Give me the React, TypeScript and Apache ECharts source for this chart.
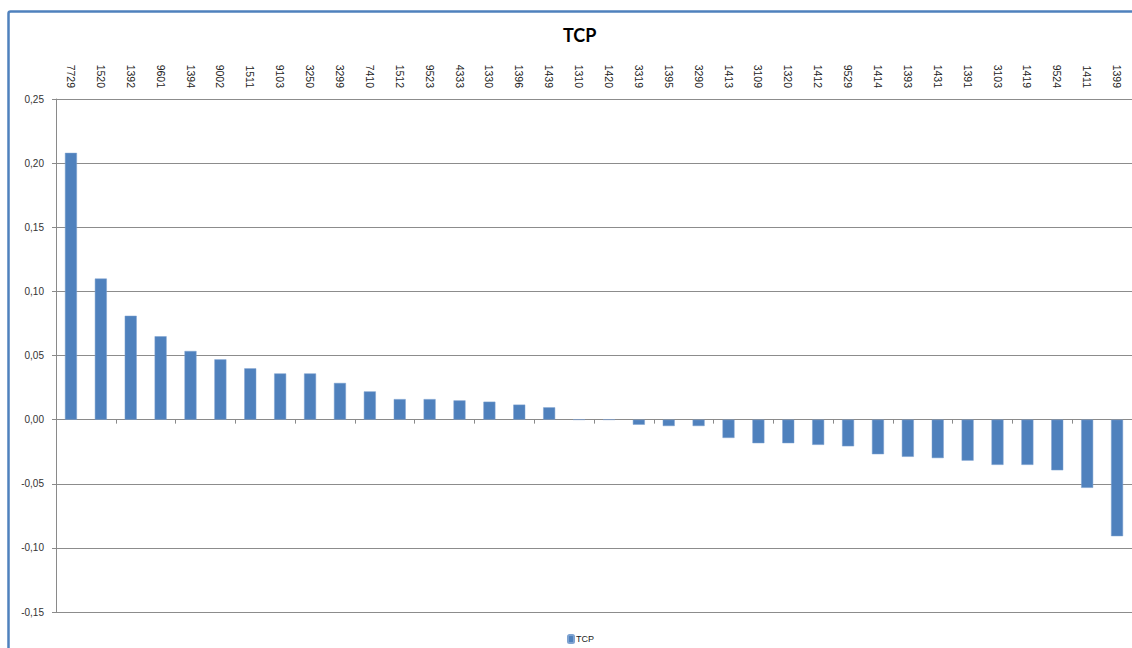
import React, { useEffect, useRef } from "react";
import * as echarts from "echarts";

const categories = [
  "7729", "1520", "1392", "9601", "1394", "9002", "1511", "9103", "3250", "3299",
  "7410", "1512", "9523", "4333", "1330", "1396", "1439", "1310", "1420", "3319",
  "1395", "3290", "1413", "3109", "1320", "1412", "9529", "1414", "1393", "1431",
  "1391", "3103", "1419", "9524", "1411", "1399",
];
const tcpValues = [
  0.208, 0.110, 0.081, 0.065, 0.0535, 0.047, 0.040, 0.036, 0.036, 0.0286,
  0.022, 0.016, 0.016, 0.015, 0.014, 0.0117, 0.0096, 0, 0, -0.004,
  -0.005, -0.005, -0.0143, -0.0184, -0.0184, -0.0197, -0.0208, -0.027, -0.029, -0.030,
  -0.032, -0.0353, -0.0353, -0.0395, -0.0532, -0.0909,
];
const seriesName = "TCP";

export default function App() {
  const ref = useRef<HTMLDivElement>(null);
  useEffect(() => {
    document.body.style.margin = "0";
    const chart = echarts.init(ref.current!, null, { renderer: "svg" });
    const font = "'Liberation Sans', Arial, sans-serif";
    chart.setOption({
      animation: false,
      backgroundColor: "#ffffff",
      title: {
        text: "TCP",
        left: 558,
        top: 21,
        textStyle: { fontSize: 18, fontWeight: "bold", color: "#000", fontFamily: "Lato, 'Open Sans', sans-serif" },
      },
      legend: {
        data: [seriesName],
        left: 562,
        top: 629,
        itemWidth: 6,
        itemHeight: 8,
        itemGap: 4,
        textStyle: { fontSize: 9, color: "#222", fontFamily: font, padding: [0, 0, 0, -3] },
      },
      grid: { left: 56, top: 99, width: 1080, height: 513, containLabel: false },
      xAxis: [
        {
          type: "category",
          data: categories,
          position: "bottom",
          axisLine: { onZero: true, lineStyle: { color: "#8a8a8a", width: 1 } },
          axisTick: { show: true, length: 4, lineStyle: { color: "#8a8a8a" } },
          axisLabel: { show: false },
          splitLine: { show: false },
        },
        {
          type: "category",
          data: categories,
          position: "top",
          axisLine: { show: false },
          axisTick: { show: false },
          axisLabel: {
            show: true,
            rotate: 90,
            margin: 11,
            interval: 0,
            fontSize: 10.5,
            color: "#222",
            fontFamily: font,
          },
        },
      ],
      yAxis: {
        type: "value",
        min: -0.15,
        max: 0.25,
        interval: 0.05,
        axisLine: { show: true, lineStyle: { color: "#8a8a8a" } },
        axisTick: { show: true, length: 4, lineStyle: { color: "#8a8a8a" } },
        axisLabel: {
          margin: 12,
          fontSize: 10,
          color: "#333",
          fontFamily: font,
          formatter: (v: number) => (Math.abs(v) < 1e-9 ? 0 : v).toFixed(2).replace(".", ","),
        },
        splitLine: { show: true, lineStyle: { color: "#8c8c8c", width: 1.2 } },
      },
      series: [
        {
          name: seriesName,
          type: "bar",
          data: tcpValues,
          barWidth: 12,
          itemStyle: { color: "#4F81BD", borderColor: "#7ea3d1", borderWidth: 0.5 },
        },
      ],
      graphic: [
        {
          type: "rect",
          shape: { x: 8.5, y: 11.5, width: 1400, height: 1000, r: 2 },
          style: { fill: "none", stroke: "#4F81BD", lineWidth: 2.5 },
          silent: true,
        },
      ],
    });
    return () => chart.dispose();
  }, []);
  return (
    <div
      ref={ref}
      style={{ position: "fixed", left: 0, top: 0, width: 1132, height: 648 }}
    />
  );
}
